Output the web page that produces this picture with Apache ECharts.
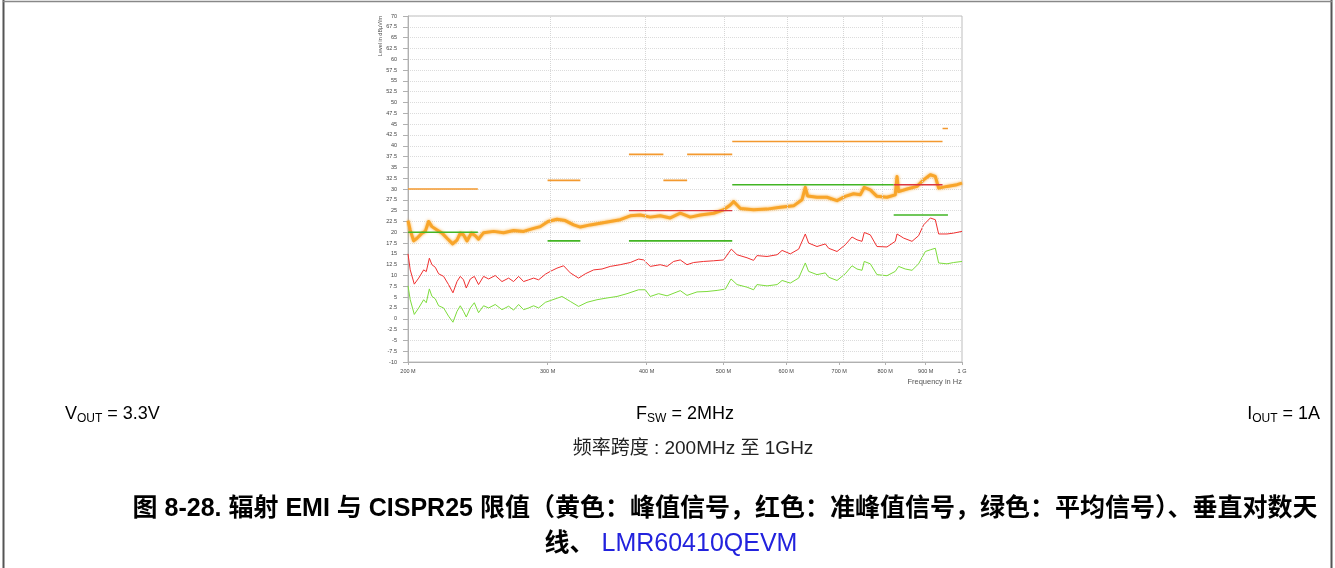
<!DOCTYPE html>
<html><head><meta charset="utf-8">
<script src="https://cdn.jsdelivr.net/npm/echarts@6/dist/echarts.min.js"></script>
<style>html,body{margin:0;padding:0;background:#fff}#c{width:1335px;height:568px}</style>
</head><body><div id="c"></div>
<script>
// ---- axis ticks ----
const xTickMHz = [200, 300, 400, 500, 600, 700, 800, 900, 1000];
const xTickLabels = ['200 M', '300 M', '400 M', '500 M', '600 M', '700 M', '800 M', '900 M', '1 G'];

// ---- peak (orange) trace, MHz / dBuV/m ----
const peakFreq = [200,201.3,203.3,205.3,208.3,210.3,212.3,214.4,217.6,220.8,224.0,227.7,230.6,232.8,235.0,237.4,240.4,243.2,245.5,249.1,256.5,264.0,271.8,279.8,288.1,293.7,300.4,308.3,315.8,323.6,330.0,339.6,349.6,359.9,370.5,381.5,392.8,404.3,416.2,428.5,441.1,454.2,467.6,486.0,500.3,510.1,515.1,525.2,545.8,567.6,590.0,613.1,628.2,634.3,638.6,656.2,675.5,695.5,712.4,729.8,744.2,752.8,766.1,781.1,804.1,823.8,828.0,831.8,852.4,877.5,894.4,912.1,925.4,934.4,957.3,985.7,1000];
const peakLevel = [22.7,20.5,18.0,18.6,19.8,20.2,22.5,21.3,20.5,19.8,18.6,17.3,18.2,19.8,19.4,18.0,19.8,19.2,18.4,19.9,20.2,19.9,20.4,20.2,20.9,21.3,22.5,23.0,22.7,21.7,21.2,21.7,22.1,22.5,22.9,23.8,24.0,23.5,23.8,23.3,24.4,23.5,24.0,24.4,25.2,26.3,27.1,25.5,25.2,25.35,25.8,26.1,27.5,30.4,28.4,28.1,28.1,27.3,28.3,28.9,28.65,30.4,29.8,28.3,28.1,28.65,32.9,29.4,30.0,30.6,32.1,33.3,32.9,30.2,30.6,31.0,31.35];

// ---- quasi-peak (red) trace ----
const qpFreq = [200,201.3,203.7,206.3,209.3,210.9,212.8,214.4,216.5,218.6,221.8,225.0,227.9,230.6,232.8,235.0,236.9,239.7,242.5,245.5,249.1,252.8,257.7,262.8,267.9,271.8,275.8,279.8,284.0,288.1,292.3,298.1,302.4,308.3,314.3,320.5,328.3,334.8,343.0,351.4,359.9,370.5,381.5,390.8,396.6,404.3,416.2,424.5,432.7,441.1,449.8,458.5,472.1,486.0,500.3,511.6,520.2,535.5,545.8,551.2,567.6,584.4,593.0,607.3,622.2,634.3,640.4,656.2,672.3,678.8,695.5,712.4,726.5,737.1,747.9,752.8,766.1,781.1,804.1,823.8,828.0,844.0,864.8,881.5,894.4,912.1,925.4,934.4,957.3,975.9,1000];
const qpLevel = [15.0,11.3,8.0,9.4,11.3,10.9,14.0,12.5,11.9,10.4,9.8,7.9,6.0,8.6,9.8,9.0,7.1,9.2,9.8,7.9,9.8,9.2,10.0,8.6,9.4,8.6,9.8,8.6,9.0,9.4,9.0,10.3,10.95,11.7,12.25,10.6,9.4,10.4,11.3,11.5,12.1,12.5,13.0,13.8,13.6,12.1,12.5,12.1,13.25,13.6,12.5,13.0,13.25,13.4,13.6,16.1,14.8,14.1,13.5,14.6,14.4,14.8,15.8,15.0,16.1,19.6,17.5,16.7,17.3,16.3,15.55,17.1,18.9,18.25,17.9,19.95,19.4,16.7,16.6,17.9,19.6,18.65,17.9,19.2,21.7,23.3,22.9,19.6,19.6,19.8,20.2];

// ---- average (green) trace ----
const avgFreq = [200,201.3,203.7,206.3,209.3,210.9,212.8,214.4,216.5,218.6,221.8,225.0,227.9,230.6,232.8,235.0,236.9,239.7,242.5,245.5,249.1,252.8,257.7,262.8,267.9,271.8,275.8,279.8,284.0,288.1,292.3,298.1,302.4,312.9,320.5,328.3,336.4,346.3,356.5,367.0,377.9,390.8,398.5,404.3,414.2,424.5,441.1,449.8,463.1,476.7,490.9,502.8,511.2,520.2,535.5,545.8,551.2,567.6,584.4,593.0,607.3,622.2,634.3,640.4,656.2,672.3,678.8,695.5,712.4,726.5,737.1,747.9,752.8,766.1,781.1,804.1,823.8,831.8,848.1,864.8,881.5,899.0,912.1,925.4,934.4,957.3,975.9,1000];
const avgLevel = [7.6,4.4,1.0,2.5,4.4,3.7,6.9,5.2,4.6,3.0,2.5,0.6,-0.8,1.7,3.0,1.7,0.4,2.5,3.7,1.4,3.0,2.5,3.3,2.1,2.9,2.0,3.3,2.1,2.5,3.0,2.5,3.8,4.2,5.15,4.0,2.85,3.8,4.4,4.8,5.15,5.8,6.7,6.7,5.15,5.8,5.3,6.5,5.4,6.2,6.3,6.55,6.85,9.2,7.9,7.3,6.7,7.9,7.6,7.9,8.85,8.25,9.4,12.9,10.95,10.2,10.6,9.6,8.85,10.4,12.25,11.5,11.2,13.25,12.7,10.2,9.95,10.95,12.1,11.5,11.2,12.7,15.55,15.95,16.3,12.9,12.7,13.0,13.25];

// ---- CISPR25 limit segments (start MHz, end MHz, level) ----
const peakLimStart = [200, 300, 380, 420, 450, 513, 945];
const peakLimEnd   = [245, 330, 420, 450, 513, 945, 960];
const peakLimLevel = [30, 32, 38, 32, 38, 41, 44];
const qpLimStart = [380, 820];
const qpLimEnd   = [513, 945];
const qpLimLevel = [25, 31];
const avgLimStart = [200, 300, 380, 513, 820];
const avgLimEnd   = [245, 330, 513, 820, 960];
const avgLimLevel = [20, 18, 18, 31, 24];

const L = Math.log10;
function trace(f, v) { return f.map((x, i) => [L(x), v[i]]); }
function segs(s, e, v) {
  const out = [];
  s.forEach((x, i) => { out.push([L(x), v[i]], [L(e[i]), v[i]], [L(e[i]), '-']); });
  return out;
}
function tickLabel(v) {
  let best = 0, bd = 1e9;
  xTickMHz.forEach((f, i) => { const d = Math.abs(L(f) - v); if (d < bd) { bd = d; best = i; } });
  return xTickLabels[best];
}

const SANS = '"Liberation Sans", "Noto Sans CJK SC", sans-serif';
const chart = echarts.init(document.getElementById('c'), null, { renderer: 'canvas' });
const lineBase = { type: 'line', symbol: 'none', animation: false, silent: true, smooth: false, connectNulls: false };
const subRich = {
  a: { fontSize: 18, lineHeight: 22, fontFamily: SANS, fill: '#000', verticalAlign: 'middle' },
  s: { fontSize: 12, lineHeight: 12, fontFamily: SANS, fill: '#000', verticalAlign: 'bottom' }
};

chart.setOption({
  backgroundColor: '#fff',
  animation: false,
  grid: { left: 408, top: 16, width: 554, height: 346, show: true, borderColor: '#bdbdbd', borderWidth: 1, backgroundColor: 'transparent' },
  xAxis: {
    type: 'value', min: L(200), max: 3,
    axisLine: { show: true, onZero: false, lineStyle: { color: '#b0b0b0', width: 1 } },
    axisTick: { show: true, length: 3, lineStyle: { color: '#b0b0b0' }, customValues: xTickMHz.map(L) },
    axisLabel: { customValues: xTickMHz.map(L), formatter: tickLabel, fontSize: 5.5, color: '#444', margin: 7, fontFamily: SANS },
    splitLine: { show: false }
  },
  yAxis: {
    type: 'value', min: -10, max: 70, interval: 2.5,
    axisLine: { show: true, onZero: false, lineStyle: { color: '#b0b0b0', width: 1 } },
    axisTick: { show: true, length: 5, lineStyle: { color: '#b0b0b0' } },
    axisLabel: { fontSize: 5.5, color: '#444', margin: 11, fontFamily: SANS, formatter: v => String(v) },
    splitLine: { show: true, lineStyle: { color: '#dcdcdc', type: 'dotted', width: 1 } }
  },
  series: [
    Object.assign({}, lineBase, { name: 'avg', data: trace(avgFreq, avgLevel), lineStyle: { color: '#7ddc3c', width: 1 }, z: 2,
      markLine: { silent: true, symbol: ['none', 'none'], label: { show: false }, animation: false,
        lineStyle: { color: '#d6d6d6', type: 'dotted', width: 1 },
        data: xTickMHz.slice(1, -1).map(f => ({ xAxis: L(f) })) } }),
    Object.assign({}, lineBase, { name: 'qp', data: trace(qpFreq, qpLevel), lineStyle: { color: '#f03030', width: 1 }, z: 3 }),
    Object.assign({}, lineBase, { name: 'peak', data: trace(peakFreq, peakLevel),
      lineStyle: { color: '#f8a52a', width: 3, join: 'round', shadowBlur: 3, shadowColor: 'rgba(248,165,42,0.9)' }, z: 4 }),
    Object.assign({}, lineBase, { name: 'peakLim', data: segs(peakLimStart, peakLimEnd, peakLimLevel), lineStyle: { color: '#f3992f', width: 1.6 }, z: 5 }),
    Object.assign({}, lineBase, { name: 'qpLim', data: segs(qpLimStart, qpLimEnd, qpLimLevel), lineStyle: { color: '#d9363e', width: 1.4 }, z: 5 }),
    Object.assign({}, lineBase, { name: 'avgLim', data: segs(avgLimStart, avgLimEnd, avgLimLevel), lineStyle: { color: '#43b524', width: 1.6 }, z: 6 })
  ],
  graphic: [
    { type: 'line', shape: { x1: 3.5, y1: 0, x2: 3.5, y2: 568 }, style: { stroke: '#555', lineWidth: 2 }, silent: true },
    { type: 'line', shape: { x1: 1331.5, y1: 0, x2: 1331.5, y2: 568 }, style: { stroke: '#555', lineWidth: 2 }, silent: true },
    { type: 'line', shape: { x1: 3, y1: 1.5, x2: 1332, y2: 1.5 }, style: { stroke: '#888', lineWidth: 1.5 }, silent: true },
    { type: 'text', x: 380, y: 16, rotation: Math.PI / 2, style: { text: 'Level in dBµV/m', font: '5.5px ' + SANS, fill: '#555', align: 'right', verticalAlign: 'middle' }, silent: true },
    { type: 'text', x: 962, y: 381.5, style: { text: 'Frequency in Hz', font: '7.5px ' + SANS, fill: '#555', align: 'right', verticalAlign: 'middle' }, silent: true },
    { type: 'text', x: 65, y: 414, style: { text: '{a|V}{s|OUT}{a| = 3.3V}', align: 'left', verticalAlign: 'middle', rich: subRich }, silent: true },
    { type: 'text', x: 685, y: 414, style: { text: '{a|F}{s|SW}{a| = 2MHz}', align: 'center', verticalAlign: 'middle', rich: subRich }, silent: true },
    { type: 'text', x: 1320, y: 414, style: { text: '{a|I}{s|OUT}{a| = 1A}', align: 'right', verticalAlign: 'middle', rich: subRich }, silent: true },
    { type: 'text', x: 693, y: 449, style: { text: '频率跨度 : 200MHz 至 1GHz', font: '19px ' + SANS, fill: '#222', align: 'center', verticalAlign: 'middle' }, silent: true },
    { type: 'text', x: 725, y: 509, style: { text: '图 8-28. 辐射 EMI 与 CISPR25 限值（黄色：峰值信号，红色：准峰值信号，绿色：平均信号）、垂直对数天', font: 'bold 25px ' + SANS, fill: '#000', align: 'center', verticalAlign: 'middle' }, silent: true },
    { type: 'text', x: 671, y: 544, style: { text: '{b|线、 }{l|LMR60410QEVM}', align: 'center', verticalAlign: 'middle',
        rich: { b: { fontSize: 25, fontWeight: 'bold', fontFamily: SANS, fill: '#000' }, l: { fontSize: 25, fontFamily: SANS, fill: '#2222dd' } } }, silent: true }
  ]
});
</script></body></html>
